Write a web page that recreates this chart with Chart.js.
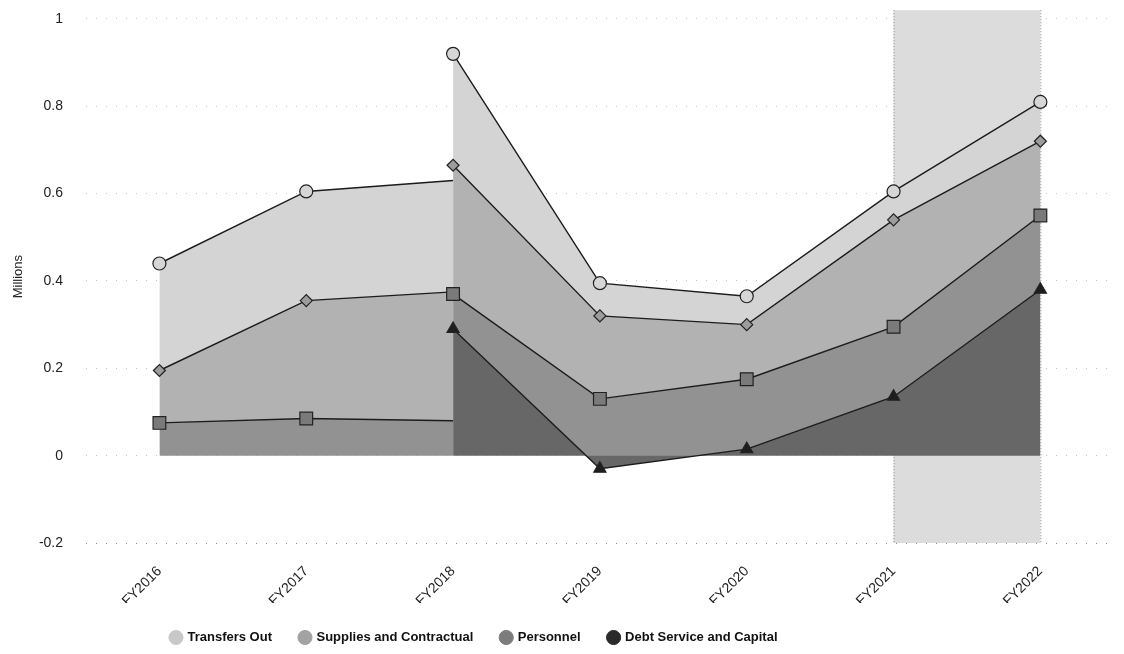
<!DOCTYPE html>
<html><head><meta charset="utf-8">
<script src="https://cdn.jsdelivr.net/npm/chart.js@4.4.1/dist/chart.umd.min.js"></script>
<style>html,body{margin:0;padding:0;background:#fff}#wrap{width:1124px;height:654px}</style>
</head><body><div id="wrap"><canvas id="c" width="1124" height="654"></canvas></div>
<script>
// ---- data (values in millions) ----
const categories = ['FY2016','FY2017','FY2018','FY2019','FY2020','FY2021','FY2022'];
const seriesNames = ['Transfers Out','Supplies and Contractual','Personnel','Debt Service and Capital'];
const transfersOut        = [0.245, 0.25, 0.255, 0.075, 0.065, 0.065, 0.09];
const suppliesContractual = [0.12, 0.27, 0.295, 0.19, 0.125, 0.245, 0.17];
const personnel           = [0.075, 0.085, 0.08, 0.16, 0.16, 0.16, 0.17];
const debtServiceCapital  = [null, null, 0.29, -0.03, 0.015, 0.135, 0.38];
const yTickValues = [-0.2, 0, 0.2, 0.4, 0.6, 0.8, 1];
const highlightRange = ['FY2021', 'FY2022'];

// ---- styling ----
const FONT = "'Liberation Sans', Arial, Helvetica, sans-serif";
const areaColor = { t:'#d4d4d4', s:'#b2b2b2', p:'#929292', d:'#676767' };
const markerFill = { t:'#d6d6d6', s:'#9c9c9c', p:'#7a7a7a', d:'#1e1e1e' };
const legendFill = ['#c8c8c8', '#a2a2a2', '#7c7c7c', '#2a2a2a'];
const LINE = '#1c1c1c';

// first debt-reporting year splits the chart into two stacked segments
const split = debtServiceCapital.findIndex(v => v !== null);
const part = (arr, from, to) => arr.map((v, i) => (i >= from && i <= to) ? v : null);

function ds(label, data, key, style, fill, stack, order, pr) {
  return {
    label, data, stack, order, fill,
    backgroundColor: areaColor[key],
    borderColor: LINE, borderWidth: 1.4, tension: 0,
    pointStyle: style, pointRadius: pr, pointHoverRadius: pr,
    pointBackgroundColor: markerFill[key], pointBorderColor: '#222', pointBorderWidth: 1.2,
    spanGaps: false
  };
}
const n = categories.length;
const pr1 = (r) => categories.map((c, i) => i < split ? r : 0);
const datasets = [
  // segment before debt data: stack "pre"
  ds('Personnel', part(personnel, 0, split), 'p', 'rect', 'origin', 'pre', 2, pr1(9)),
  ds('Supplies and Contractual', part(suppliesContractual, 0, split), 's', 'rectRot', '-1', 'pre', 2, pr1(6)),
  ds('Transfers Out', part(transfersOut, 0, split), 't', 'circle', '-1', 'pre', 2, pr1(6.5)),
  // segment with debt data: stack "post"
  ds('Debt Service and Capital', part(debtServiceCapital, split, n - 1), 'd', 'triangle', 'origin', 'post', 1, 7),
  ds('Personnel', part(personnel, split, n - 1), 'p', 'rect', '-1', 'post', 1, 9),
  ds('Supplies and Contractual', part(suppliesContractual, split, n - 1), 's', 'rectRot', '-1', 'post', 1, 6),
  ds('Transfers Out', part(transfersOut, split, n - 1), 't', 'circle', '-1', 'post', 1, 6.5)
];

const bandPlugin = {
  id: 'band',
  beforeDatasetsDraw(chart) {
    const { ctx, chartArea, scales: { x } } = chart;
    const x0 = x.getPixelForValue(categories.indexOf(highlightRange[0]));
    const x1 = x.getPixelForValue(categories.indexOf(highlightRange[1]));
    ctx.save();
    ctx.fillStyle = '#dcdcdc';
    ctx.fillRect(x0, chartArea.top, x1 - x0, chartArea.bottom - chartArea.top);
    ctx.strokeStyle = '#8a8a8a';
    ctx.lineWidth = 1;
    ctx.setLineDash([1, 2]);
    ctx.beginPath();
    ctx.moveTo(x0 + 0.5, chartArea.top); ctx.lineTo(x0 + 0.5, chartArea.bottom);
    ctx.moveTo(x1 + 0.5, chartArea.top); ctx.lineTo(x1 + 0.5, chartArea.bottom);
    ctx.stroke();
    ctx.restore();
  }
};

// legend entries, plus a blank spacer so the row sits left of centre as in the original
const legendItems = seriesNames.map((name, i) => ({
  text: name, fillStyle: legendFill[i], strokeStyle: legendFill[i], lineWidth: 1,
  pointStyle: 'circle', hidden: false, fontColor: '#111'
})).concat([{ text: '\u2003'.repeat(10), fillStyle: 'rgba(0,0,0,0)', strokeStyle: 'rgba(0,0,0,0)',
  lineWidth: 0, pointStyle: 'circle', hidden: false, fontColor: 'rgba(0,0,0,0)' }]);

new Chart(document.getElementById('c'), {
  type: 'line',
  data: { labels: categories, datasets },
  plugins: [bandPlugin],
  options: {
    responsive: false, animation: false,
    layout: { padding: { left: 0, right: 1, top: 7, bottom: 0 } },
    plugins: {
      tooltip: { enabled: false },
      legend: {
        position: 'bottom',
        labels: {
          usePointStyle: true, boxWidth: 10, boxHeight: 10, padding: 28,
          color: '#111', font: { family: FONT, size: 13, weight: 'bold' },
          generateLabels: () => legendItems
        }
      }
    },
    scales: {
      x: {
        offset: true,
        grid: { display: false }, border: { display: false },
        ticks: { minRotation: 45, maxRotation: 45, padding: 12, color: '#222', font: { family: FONT, size: 14 } },
        afterFit(s) { s.height = 60; }
      },
      y: {
        stacked: 'single', min: -0.2, max: 1.02,
        afterBuildTicks(s) { s.ticks = yTickValues.map(v => ({ value: v })); },
        ticks: { padding: 23, color: '#222', font: { family: FONT, size: 14 },
                 callback: v => String(Math.round(v * 10) / 10) },
        grid: { color: c => (c.tick && c.tick.value === yTickValues[0]) ? '#8c8c8c' : '#c4c4c4', drawTicks: false, lineWidth: 1 },
        border: { display: false, dash: [1, 9] },
        title: { display: true, text: 'Millions', color: '#222', font: { family: FONT, size: 13 }, padding: { top: 11, bottom: 0 } },
        afterFit(s) { s.width = 86; s.paddingTop = 0; s.paddingBottom = 0; }
      }
    }
  }
});
</script></body></html>
